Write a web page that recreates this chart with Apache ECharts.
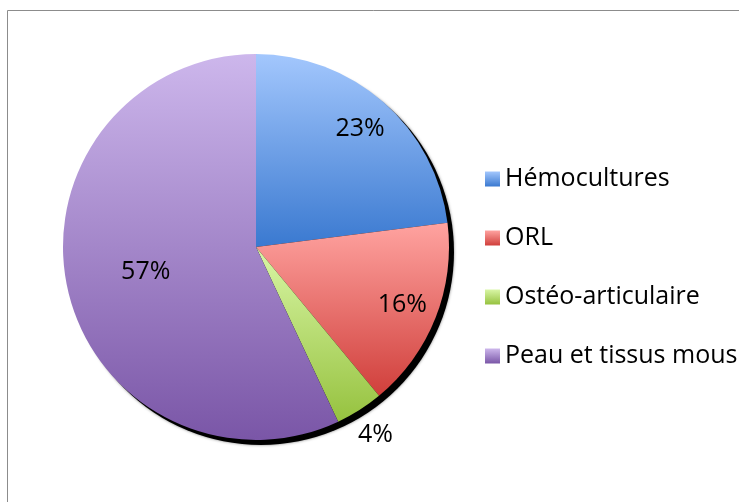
<!DOCTYPE html>
<html lang="fr">
<head>
  <meta charset="UTF-8">
  <title>Répartition des prélèvements</title>
  <script src="https://cdn.jsdelivr.net/npm/echarts@6/dist/echarts.min.js"></script>
  <style>
    html, body { margin: 0; padding: 0; background: #fff; }
    #chart { width: 739px; height: 502px; }
  </style>
</head>
<body>
  <div id="chart"></div>
  <script>
    // data (percent)
    const categories = ['Hémocultures', 'ORL', 'Ostéo-articulaire', 'Peau et tissus mous'];
    const values = [23, 16, 4, 57];
    // top / bottom gradient stops of each slice
    const topColors = ['#a3c7fd', '#ffa3a0', '#d9f6a6', '#cdb7ec'];
    const bottomColors = ['#3a79d0', '#d03f3b', '#96c23f', '#7a56a7'];

    const chart = echarts.init(document.getElementById('chart'));

    const cx = 256, cy = 247, r = 193;
    const font = 'Open Sans, Calibri, sans-serif';

    function grad(i) {
      return new echarts.graphic.LinearGradient(0, 0, 0, 1, [
        { offset: 0, color: topColors[i] },
        { offset: 1, color: bottomColors[i] }
      ]);
    }

    const pieData = categories.map((name, i) => ({
      name: name,
      value: values[i],
      itemStyle: { color: grad(i) }
    }));

    // transparent copy of the pie, only used to place some labels
    function labelSeries(radius, shown) {
      return {
        type: 'pie',
        silent: true,
        center: [cx, cy],
        radius: radius,
        legendHoverLink: false,
        data: categories.map((name, i) => ({
          name: name,
          value: values[i],
          itemStyle: { color: 'rgba(0,0,0,0)' },
          label: { show: shown.indexOf(i) >= 0 }
        })),
        label: {
          position: 'inside',
          formatter: '{c}%',
          color: '#000',
          fontFamily: font,
          fontSize: 25
        },
        labelLine: { show: false },
        emphasis: { disabled: true },
        animation: false,
        z: 5
      };
    }

    const option = {
      animation: false,
      graphic: [{
        type: 'rect',
        shape: { x: 7.5, y: 10.5, width: 760, height: 520 },
        style: { fill: '#fff', stroke: '#8c8c8c', lineWidth: 1 },
        z: -10
      }],
      legend: {
        orient: 'vertical',
        left: 480,
        top: 160,
        icon: 'rect',
        itemWidth: 15,
        itemHeight: 15,
        itemGap: 31,
        data: categories,
        textStyle: {
          color: '#000',
          fontFamily: font,
          fontSize: 25,
          lineHeight: 28
        },
        selectedMode: false
      },
      series: [
        {
          // dark drop shadow under the pie
          type: 'pie',
          silent: true,
          center: [cx + 5, cy + 5],
          radius: r,
          data: [{ name: 'ombre', value: 1 }],
          itemStyle: { color: '#000', shadowColor: 'rgba(0,0,0,0.5)', shadowBlur: 3 },
          label: { show: false },
          labelLine: { show: false },
          emphasis: { disabled: true },
          z: 1
        },
        {
          type: 'pie',
          center: [cx, cy],
          radius: r,
          startAngle: 90,
          clockwise: true,
          data: pieData,
          label: { show: false },
          labelLine: { show: false },
          emphasis: { disabled: true },
          z: 2
        },
        labelSeries([r * 0.6, r], [0, 1]),
        labelSeries([r * 0.14, r], [3]),
        labelSeries([r * 1.04, r * 1.24], [2])
      ]
    };

    chart.setOption(option);
  </script>
</body>
</html>
